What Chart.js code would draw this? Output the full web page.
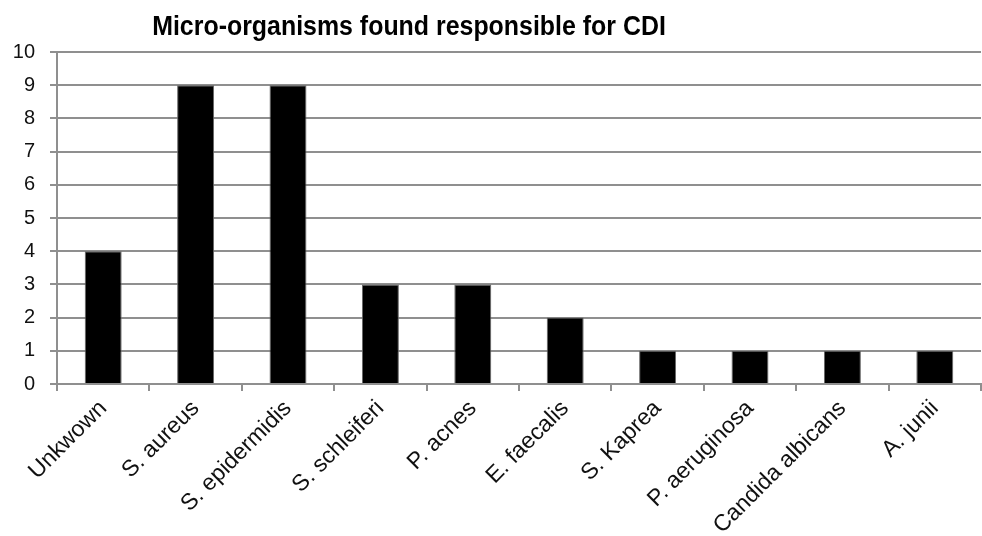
<!DOCTYPE html>
<html>
<head>
<meta charset="utf-8">
<title>Micro-organisms found responsible for CDI</title>
<script src="https://cdn.jsdelivr.net/npm/chart.js@4/dist/chart.umd.min.js"></script>
<style>
  html, body { margin: 0; padding: 0; background: #fff; }
  canvas { display: block; }
</style>
</head>
<body>
<canvas id="chart" width="982" height="536"></canvas>
<script>
// Organisms identified and the number of cases for each
const organisms = [
  'Unkwown', 'S. aureus', 'S. epidermidis', 'S. schleiferi', 'P. acnes',
  'E. faecalis', 'S. Kaprea', 'P. aeruginosa', 'Candida albicans', 'A. junii'
];
const cases = [4, 9, 9, 3, 3, 2, 1, 1, 1, 1];
const yTicks = [0, 1, 2, 3, 4, 5, 6, 7, 8, 9, 10];

const chartTitle = 'Micro-organisms found responsible for CDI';
const FONT = '"Liberation Sans", Arial, Helvetica, sans-serif';
const GRID = '#8f8f8f';

// Title drawn slightly condensed, as in the original report figure
const condensedTitle = {
  id: 'condensedTitle',
  afterDraw(chart) {
    const ctx = chart.ctx;
    ctx.save();
    ctx.font = 'bold 28px ' + FONT;
    ctx.fillStyle = '#000';
    ctx.textAlign = 'center';
    ctx.textBaseline = 'alphabetic';
    ctx.translate(409, 35);
    ctx.scale(0.89, 1);
    ctx.fillText(chartTitle, 0, 0);
    ctx.restore();
  }
};

new Chart(document.getElementById('chart'), {
  type: 'bar',
  data: {
    labels: organisms,
    datasets: [{
      data: cases,
      backgroundColor: '#000',
      borderColor: '#666',
      borderWidth: 1,
      barPercentage: 0.4,
      categoryPercentage: 1.0
    }]
  },
  options: {
    responsive: false,
    devicePixelRatio: 1,
    animation: false,
    layout: { padding: { top: 52, right: 1, left: 0, bottom: 0 } },
    plugins: {
      legend: { display: false },
      title: { display: false },
      tooltip: { enabled: false }
    },
    scales: {
      x: {
        afterFit(scale) {
          scale.height = 152;
          scale.paddingTop = 0;
          scale.paddingLeft = 0;
          scale.paddingRight = 0;
        },
        grid: {
          offset: true,
          drawOnChartArea: false,
          drawTicks: true,
          tickLength: 7,
          color: GRID,
          lineWidth: 2
        },
        border: { color: GRID, width: 2 },
        ticks: {
          minRotation: 45,
          maxRotation: 45,
          autoSkip: false,
          padding: 4,
          color: '#111',
          font: { family: FONT, size: 23 }
        }
      },
      y: {
        min: 0,
        max: 10,
        afterFit(scale) {
          scale.width = 57;
          scale.paddingTop = 0;
          scale.paddingBottom = 0;
        },
        afterBuildTicks(scale) { scale.ticks = yTicks.map(v => ({ value: v })); },
        grid: {
          color: GRID,
          lineWidth: 2,
          tickLength: 7
        },
        border: { color: GRID, width: 2 },
        ticks: {
          padding: 15,
          color: '#111',
          font: { family: FONT, size: 20 }
        }
      }
    }
  },
  plugins: [condensedTitle]
});
</script>
</body>
</html>
